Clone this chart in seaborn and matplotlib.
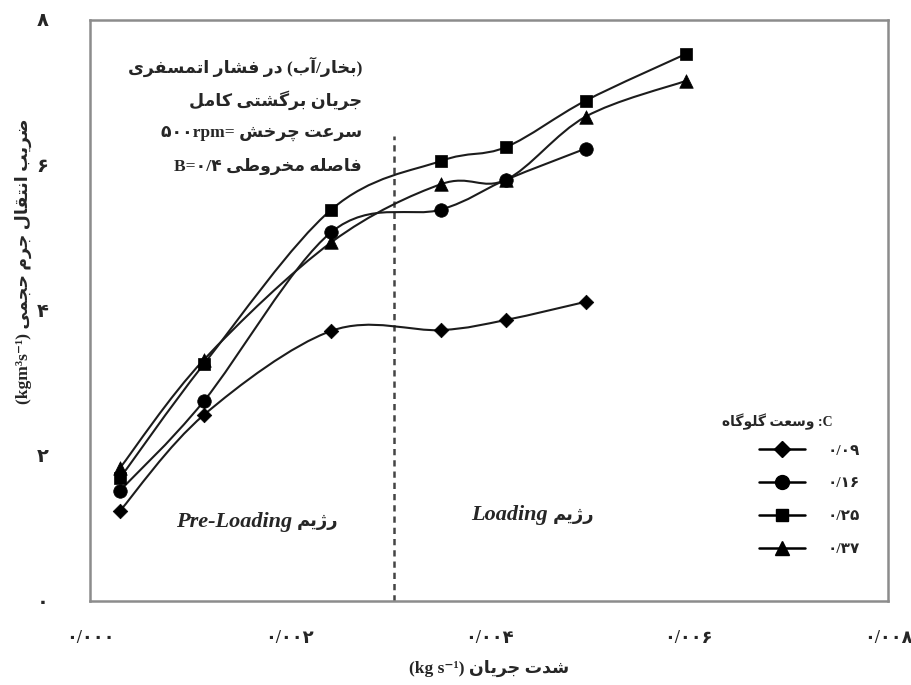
import numpy as np
import pandas as pd
import seaborn as sns
import matplotlib
matplotlib.use("Agg")
import matplotlib.pyplot as plt
from matplotlib.path import Path
from matplotlib.patches import PathPatch
from matplotlib.lines import Line2D

# ---------------- data ----------------
flow_rate = [0.0003, 0.00114, 0.00242, 0.00352, 0.00417, 0.00497, 0.00597]
kla_009 = [1.24, 2.56, 3.72, 3.73, 3.87, 4.12]
kla_016 = [1.52, 2.75, 5.08, 5.39, 5.80, 6.23]
kla_025 = [1.69, 3.26, 5.39, 6.06, 6.25, 6.89, 7.53]
kla_037 = [1.83, 3.32, 4.94, 5.74, 5.80, 6.67, 7.16]
series_labels = ["۰/۰۹", "۰/۱۶", "۰/۲۵", "۰/۳۷"]
xtick_values = [0, 0.001, 0.002, 0.003, 0.004, 0.005, 0.006, 0.007, 0.008]
xtick_labels = ["۰/۰۰۰", "", "۰/۰۰۲", "", "۰/۰۰۴", "", "۰/۰۰۶", "", "۰/۰۰۸"]
ytick_values = [0, 1, 2, 3, 4, 5, 6, 7, 8]
ytick_labels = ["۰", "", "۲", "", "۴", "", "۶", "", "۸"]
regime_boundary = 0.00305
regime_line_top = 6.4

# ---------------- minimal Persian shaping ----------------
FORMS = {
    'ا': ('\uFE8D', '\uFE8E', None, None),
    'آ': ('\uFE81', '\uFE82', None, None),
    'ب': ('\uFE8F', '\uFE90', '\uFE91', '\uFE92'),
    'پ': ('\uFB56', '\uFB57', '\uFB58', '\uFB59'),
    'ت': ('\uFE95', '\uFE96', '\uFE97', '\uFE98'),
    'ج': ('\uFE9D', '\uFE9E', '\uFE9F', '\uFEA0'),
    'چ': ('\uFB7A', '\uFB7B', '\uFB7C', '\uFB7D'),
    'ح': ('\uFEA1', '\uFEA2', '\uFEA3', '\uFEA4'),
    'خ': ('\uFEA5', '\uFEA6', '\uFEA7', '\uFEA8'),
    'د': ('\uFEA9', '\uFEAA', None, None),
    'ر': ('\uFEAD', '\uFEAE', None, None),
    'ز': ('\uFEAF', '\uFEB0', None, None),
    'ژ': ('\uFB8A', '\uFB8B', None, None),
    'س': ('\uFEB1', '\uFEB2', '\uFEB3', '\uFEB4'),
    'ش': ('\uFEB5', '\uFEB6', '\uFEB7', '\uFEB8'),
    'ص': ('\uFEB9', '\uFEBA', '\uFEBB', '\uFEBC'),
    'ض': ('\uFEBD', '\uFEBE', '\uFEBF', '\uFEC0'),
    'ط': ('\uFEC1', '\uFEC2', '\uFEC3', '\uFEC4'),
    'ع': ('\uFEC9', '\uFECA', '\uFECB', '\uFECC'),
    'ف': ('\uFED1', '\uFED2', '\uFED3', '\uFED4'),
    'ق': ('\uFED5', '\uFED6', '\uFED7', '\uFED8'),
    'ک': ('\uFB8E', '\uFB8F', '\uFB90', '\uFB91'),
    'گ': ('\uFB92', '\uFB93', '\uFB94', '\uFB95'),
    'ل': ('\uFEDD', '\uFEDE', '\uFEDF', '\uFEE0'),
    'م': ('\uFEE1', '\uFEE2', '\uFEE3', '\uFEE4'),
    'ن': ('\uFEE5', '\uFEE6', '\uFEE7', '\uFEE8'),
    'ه': ('\uFEE9', '\uFEEA', '\uFEEB', '\uFEEC'),
    'و': ('\uFEED', '\uFEEE', None, None),
    'ی': ('\uFBFC', '\uFBFD', '\uFBFE', '\uFBFF'),
}


def shape(text):
    out = []
    for i, c in enumerate(text):
        if c not in FORMS:
            out.append(c)
            continue
        prev = text[i - 1] if i > 0 else None
        nxt = text[i + 1] if i + 1 < len(text) else None
        jp = prev in FORMS and FORMS[prev][2] is not None
        jn = FORMS[c][2] is not None and nxt in FORMS
        iso, fin, ini, med = FORMS[c]
        out.append(med if (jp and jn) else fin if jp else ini if jn else iso)
    return "".join(out)


def rtl(text):
    vis = shape(text)[::-1]
    return vis.translate(str.maketrans("()", ")("))


FAM = ["Liberation Serif", "DejaVu Sans"]

# ---------------- figure ----------------
sns.set_theme(style="white")
plt.rcParams["font.family"] = FAM

fig = plt.figure(figsize=(9.12, 6.85), dpi=100)
ax = fig.add_axes([90 / 912, 84 / 685, 798 / 912, 581 / 685])

series = [
    (series_labels[0], kla_009, "D", 55),
    (series_labels[1], kla_016, "o", 95),
    (series_labels[2], kla_025, "s", 75),
    (series_labels[3], kla_037, "^", 95),
]

rows = []
for lab, ys, _, _ in series:
    for xv, yv in zip(flow_rate, ys):
        rows.append({"flow": xv, "kla": yv, "C": lab})
df = pd.DataFrame(rows)


def smooth_path(xs, ys):
    pts = np.column_stack([xs, ys])
    n = len(pts)
    verts = [pts[0]]
    codes = [Path.MOVETO]
    for i in range(n - 1):
        p0 = pts[i - 1] if i > 0 else pts[i]
        p1 = pts[i]
        p2 = pts[i + 1]
        p3 = pts[i + 2] if i + 2 < n else pts[i + 1]
        c1 = p1 + (p2 - p0) / 6.0
        c2 = p2 - (p3 - p1) / 6.0
        verts += [c1, c2, p2]
        codes += [Path.CURVE4] * 3
    return Path(verts, codes)


line_color = "#1c1c1c"
for lab, ys, mk, sz in series:
    sub = df[df["C"] == lab]
    ax.add_patch(PathPatch(smooth_path(sub["flow"].values, sub["kla"].values),
                           facecolor="none", edgecolor=line_color, lw=1.5, zorder=2))
    sns.scatterplot(data=sub, x="flow", y="kla", marker=mk, s=sz, color="black",
                    edgecolor="black", linewidth=0.5, ax=ax, legend=False, zorder=3)

# regime boundary
ax.vlines(regime_boundary, 0, regime_line_top, colors="#444444", lw=1.8,
          linestyles=(0, (2.5, 2)), zorder=1)

ax.set_xlim(0, 0.008)
ax.set_ylim(0, 8)
ax.set_xticks(xtick_values)
ax.set_xticklabels(xtick_labels, fontsize=13, fontweight="bold", family=FAM)
ax.set_yticks(ytick_values)
ax.set_yticklabels(ytick_labels, fontsize=14, fontweight="bold", family=FAM)
ax.tick_params(axis="both", direction="in", length=5, width=1.2, color="#888888")
ax.tick_params(axis="x", pad=21)
ax.tick_params(axis="y", pad=30)
for sp in ax.spines.values():
    sp.set_color("#8c8c8c")
    sp.set_linewidth(1.8)

ax.set_xlabel("(kg s⁻¹) " + rtl("شدت جریان"), fontsize=12.5, fontweight="bold",
              family=FAM, labelpad=9)
ax.set_ylabel("(kgm³s⁻¹) " + rtl("ضریب انتقال جرم حجمی"), fontsize=12.5,
              fontweight="bold", family=FAM, labelpad=16)
ax.yaxis.set_label_coords(-0.073, 0.585)

# annotation block (right aligned)
tx = (362 - 90) / 798
info_lines = [
    rtl("(بخار/آب) در فشار اتمسفری"),
    rtl("جریان برگشتی کامل"),
    "۵۰۰rpm= " + rtl("سرعت چرخش"),
    "B=۰/۴ " + rtl("فاصله مخروطی"),
]
for i, t in enumerate(info_lines):
    ax.text(tx, (601 - (67 + 33 * i)) / 581, t, transform=ax.transAxes, ha="right",
            va="center", fontsize=12.5, fontweight="bold", family=FAM)

# regime labels
ax.text((292 - 90) / 798, (601 - 522) / 581, "Pre-Loading", transform=ax.transAxes,
        ha="right", va="center", fontsize=16, fontweight="bold", style="italic",
        family=FAM)
ax.text((297 - 90) / 798, (601 - 522) / 581, rtl("رژیم"), transform=ax.transAxes,
        ha="left", va="center", fontsize=13, fontweight="bold", family=FAM)
ax.text((548 - 90) / 798, (601 - 515) / 581, "Loading", transform=ax.transAxes,
        ha="right", va="center", fontsize=16, fontweight="bold", style="italic",
        family=FAM)
ax.text((553 - 90) / 798, (601 - 515) / 581, rtl("رژیم"), transform=ax.transAxes,
        ha="left", va="center", fontsize=13, fontweight="bold", family=FAM)

# legend
handles = [Line2D([], [], color="black", lw=1.8, marker=mk,
                  markersize={"D": 8, "o": 10, "s": 9, "^": 10}[mk])
           for _, _, mk, _ in series]
leg = ax.legend(handles, series_labels, loc="upper left",
                bbox_to_anchor=((759 - 90) / 798, (601 - 444) / 581),
                frameon=False, borderpad=0, borderaxespad=0, handlelength=3.0,
                handletextpad=1.5, labelspacing=1.25,
                prop={"family": FAM, "size": 11, "weight": "bold"})
ax.text((833 - 90) / 798, (601 - 422) / 581, rtl("وسعت گلوگاه") + " :C",
        transform=ax.transAxes, ha="right", va="center", fontsize=10,
        fontweight="bold", family=FAM)

fig.savefig("out.png", dpi=100, facecolor="white")
